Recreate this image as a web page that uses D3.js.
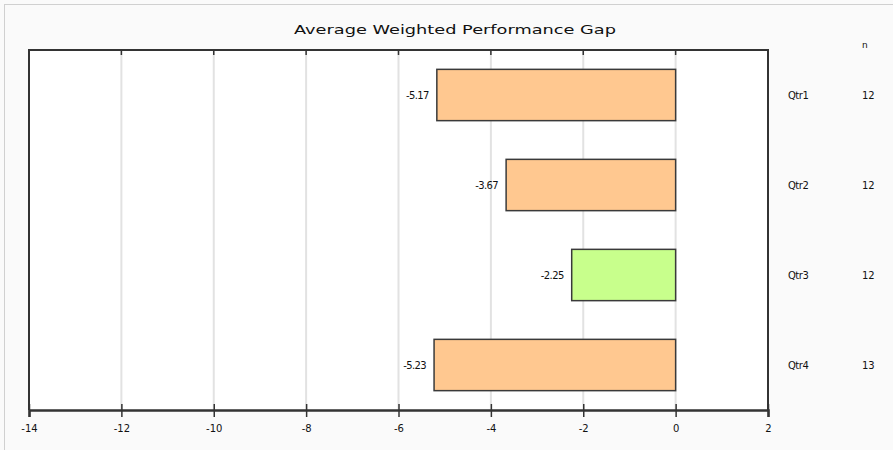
<!DOCTYPE html>
<html>
<head>
<meta charset="utf-8">
<script src="https://cdn.jsdelivr.net/npm/d3@7"></script>
<style>
  html, body { margin: 0; padding: 0; background: #fafafa; }
  svg { display: block; }
  text { font-family: "DejaVu Sans", "Liberation Sans", sans-serif; fill: #111; }
</style>
</head>
<body>
<svg id="chart" width="893" height="450"></svg>
<script>
// Quarterly averages of the weighted performance gap
const categories = ["Qtr1", "Qtr2", "Qtr3", "Qtr4"];
const gapValues = [-5.17, -3.67, -2.25, -5.23];
const counts = [12, 12, 12, 13];
const barColors = ["#ffc890", "#ffc890", "#c8ff8c", "#ffc890"];
const xTicks = [-14, -12, -10, -8, -6, -4, -2, 0, 2];
const title = "Average Weighted Performance Gap";

// plain hyphen-minus instead of the typographic minus
const fmt2 = d3.formatLocale({ decimal: ".", thousands: ",", grouping: [3], currency: ["", ""], minus: "-" }).format(".2f");
const fmtInt = d3.formatLocale({ decimal: ".", thousands: ",", grouping: [3], currency: ["", ""], minus: "-" }).format("d");

const svg = d3.select("#chart");
const W = 893, H = 450;
const plot = { left: 29, right: 768, top: 50, bottom: 410 };

// page frame
svg.append("rect").attr("width", W).attr("height", H).attr("fill", "#fafafa");
svg.append("line").attr("x1", 4.5).attr("x2", 4.5).attr("y1", 4).attr("y2", H)
  .attr("stroke", "#d0d0d0").attr("stroke-width", 1);
svg.append("line").attr("x1", 4).attr("x2", W).attr("y1", 4.5).attr("y2", 4.5)
  .attr("stroke", "#d0d0d0").attr("stroke-width", 1);

const x = d3.scaleLinear().domain([-14, 2]).range([plot.left, plot.right]);
const y = d3.scaleBand().domain(categories).range([plot.top, plot.bottom])
  .paddingInner(0.43).paddingOuter(0.215);

// plot background
svg.append("rect")
  .attr("x", plot.left).attr("y", plot.top)
  .attr("width", plot.right - plot.left).attr("height", plot.bottom - plot.top)
  .attr("fill", "#ffffff");

// vertical gridlines
svg.append("g").selectAll("line")
  .data(xTicks.filter(t => t > -14 && t < 2))
  .join("line")
  .attr("x1", d => x(d)).attr("x2", d => x(d))
  .attr("y1", plot.top).attr("y2", plot.bottom)
  .attr("stroke", "#e2e2e2").attr("stroke-width", 2);

// short tick marks hanging from the top border
svg.append("g").selectAll("line")
  .data(xTicks)
  .join("line")
  .attr("x1", d => x(d)).attr("x2", d => x(d))
  .attr("y1", plot.top).attr("y2", plot.top + 5)
  .attr("stroke", "#333").attr("stroke-width", 1.5);

// frame: top, left, right
svg.append("path")
  .attr("d", `M${plot.left},${plot.bottom}V${plot.top}H${plot.right}V${plot.bottom}`)
  .attr("fill", "none").attr("stroke", "#333").attr("stroke-width", 2);

// bars
svg.append("g").selectAll("rect")
  .data(categories)
  .join("rect")
  .attr("x", (d, i) => x(Math.min(0, gapValues[i])))
  .attr("y", d => y(d))
  .attr("width", (d, i) => Math.abs(x(gapValues[i]) - x(0)))
  .attr("height", y.bandwidth())
  .attr("fill", (d, i) => barColors[i])
  .attr("stroke", "#3a3a3a").attr("stroke-width", 1.5);

// value labels to the left of each bar
svg.append("g").selectAll("text")
  .data(categories)
  .join("text")
  .attr("x", (d, i) => x(gapValues[i]) - 8)
  .attr("y", d => y(d) + y.bandwidth() / 2)
  .attr("dy", "0.35em")
  .attr("text-anchor", "end")
  .attr("font-size", 10)
  .attr("letter-spacing", -0.6)
  .text((d, i) => fmt2(gapValues[i]));

// bottom axis
const axis = d3.axisBottom(x).tickValues(xTicks).tickSize(7).tickPadding(8)
  .tickFormat(fmtInt);
const gx = svg.append("g").attr("transform", `translate(0,${plot.bottom})`).call(axis);
gx.select(".domain").attr("stroke", "#333").attr("stroke-width", 2.5);
gx.selectAll(".tick line").attr("stroke", "#333").attr("stroke-width", 1.5)
  .attr("y1", -6);
gx.selectAll(".tick text").attr("font-size", 10).attr("fill", "#111")
  .attr("font-family", "DejaVu Sans, sans-serif");

// category labels and counts on the right
svg.append("g").selectAll("text")
  .data(categories)
  .join("text")
  .attr("x", 788)
  .attr("y", d => y(d) + y.bandwidth() / 2)
  .attr("dy", "0.35em")
  .attr("font-size", 10)
  .attr("letter-spacing", -0.5)
  .text(d => d);

svg.append("g").selectAll("text")
  .data(categories)
  .join("text")
  .attr("x", 862)
  .attr("y", d => y(d) + y.bandwidth() / 2)
  .attr("dy", "0.35em")
  .attr("font-size", 10)
  .text((d, i) => counts[i]);

svg.append("text")
  .attr("x", 862).attr("y", 48)
  .attr("font-size", 9)
  .text("n");

// title
svg.append("text")
  .attr("x", 455).attr("y", 34)
  .attr("text-anchor", "middle")
  .attr("font-size", 13)
  .attr("textLength", 322)
  .attr("lengthAdjust", "spacingAndGlyphs")
  .text(title);
</script>
</body>
</html>
